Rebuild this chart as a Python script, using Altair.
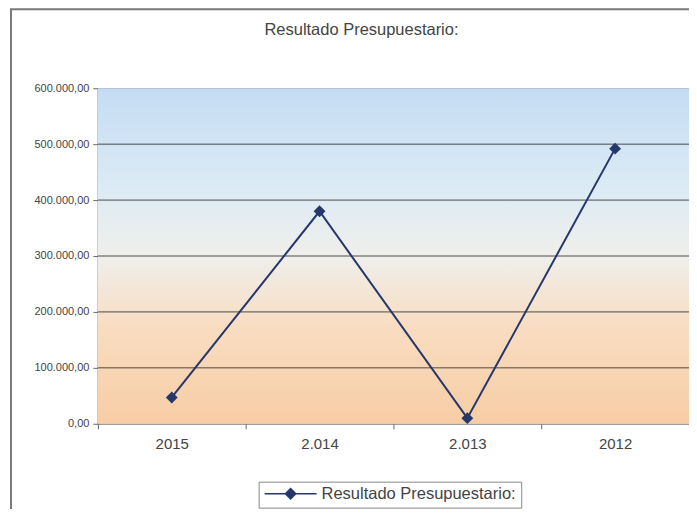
import altair as alt
import pandas as pd

years = ["2015", "2.014", "2.013", "2012"]
values = [47000, 380000, 10000, 492000]
series_name = "Resultado Presupuestario:"
y_ticks = [0, 100000, 200000, 300000, 400000, 500000, 600000]

W, H = 592, 336
NAVY = "#26376b"
FONT = "Liberation Sans"

df = pd.DataFrame({"year": years, "value": values, "serie": [series_name] * len(years)})
grid_df = pd.DataFrame({"v": y_ticks[1:-1]})
one = pd.DataFrame({"k": [0]})

x_scale = alt.Scale(type="band", paddingInner=0, paddingOuter=0)
y_scale = alt.Scale(domain=[0, 600000], nice=False)

label_expr = (
    "replace(replace(replace(format(datum.value, ',.2f'), ',', '#'), '.', ','), '#', '.')"
)

y_axis = alt.Axis(
    title=None, values=y_ticks, labelExpr=label_expr, grid=False,
    domain=False, tickColor="#666", tickSize=5, labelFontSize=11,
    labelColor="#444", labelFont=FONT, labelPadding=4,
)

frame = alt.Chart(one).mark_rect(
    fillOpacity=0, stroke="#7a7a7a", strokeWidth=2
).encode(
    x=alt.value(-87), x2=alt.value(W + 40), y=alt.value(-79), y2=alt.value(H + 140)
)

bg = alt.Chart(one).mark_rect(
    color=alt.Gradient(
        gradient="linear",
        stops=[
            alt.GradientStop(color="#c4dcf3", offset=0),
            alt.GradientStop(color="#dcebf5", offset=0.3),
            alt.GradientStop(color="#efefeb", offset=0.5),
            alt.GradientStop(color="#f9dcc0", offset=0.72),
            alt.GradientStop(color="#f7cda5", offset=1),
        ],
        x1=0, x2=0, y1=0, y2=1,
    )
).encode(x=alt.value(0), x2=alt.value(W), y=alt.value(0), y2=alt.value(H))

grid = alt.Chart(grid_df).mark_rule(color="#4a4a4a", strokeWidth=1).encode(
    y=alt.Y("v:Q", scale=y_scale, axis=y_axis)
)

line = alt.Chart(df).mark_line(strokeWidth=2).encode(
    x=alt.X(
        "year:N", sort=years, scale=x_scale,
        axis=alt.Axis(
            title=None, labelAngle=0, tickBand="extent", domain=False,
            tickColor="#666", tickSize=5, labelFontSize=15, labelColor="#444",
            labelFont=FONT, labelPadding=8,
        ),
    ),
    y=alt.Y("value:Q", scale=y_scale, axis=y_axis),
    color=alt.Color(
        "serie:N", scale=alt.Scale(range=[NAVY]),
        legend=alt.Legend(
            title=None, orient="none", legendX=161, legendY=394,
            padding=5, strokeColor="#888", fillColor="white",
            symbolType="M-1,0L1,0M0,-0.2L0.2,0L0,0.2L-0.2,0Z",
            symbolSize=2704, symbolStrokeWidth=1.5, symbolFillColor=NAVY,
            clipHeight=14, labelFontSize=16.5, labelFont=FONT,
            labelColor="#444", labelLimit=400, labelOffset=4,
        ),
    ),
)

points = alt.Chart(df).mark_point(
    shape="diamond", filled=True, size=140, color=NAVY, opacity=1
).encode(
    x=alt.X("year:N", sort=years, scale=x_scale),
    y=alt.Y("value:Q", scale=y_scale),
)

chart = alt.layer(frame, bg, grid, line, points).properties(
    width=W,
    height=H,
    padding={"left": 90, "top": 80, "right": 0, "bottom": 85},
    autosize=alt.AutoSizeParams(type="none"),
    title=alt.Title(
        series_name, fontSize=16.5, font=FONT, color="#444",
        fontWeight="normal", anchor="middle", dx=-32, offset=0, dy=30,
    ),
).configure_view(stroke="#808080", strokeWidth=1.2)

chart.save("out.html", embed_options={"renderer": "svg", "actions": False})
